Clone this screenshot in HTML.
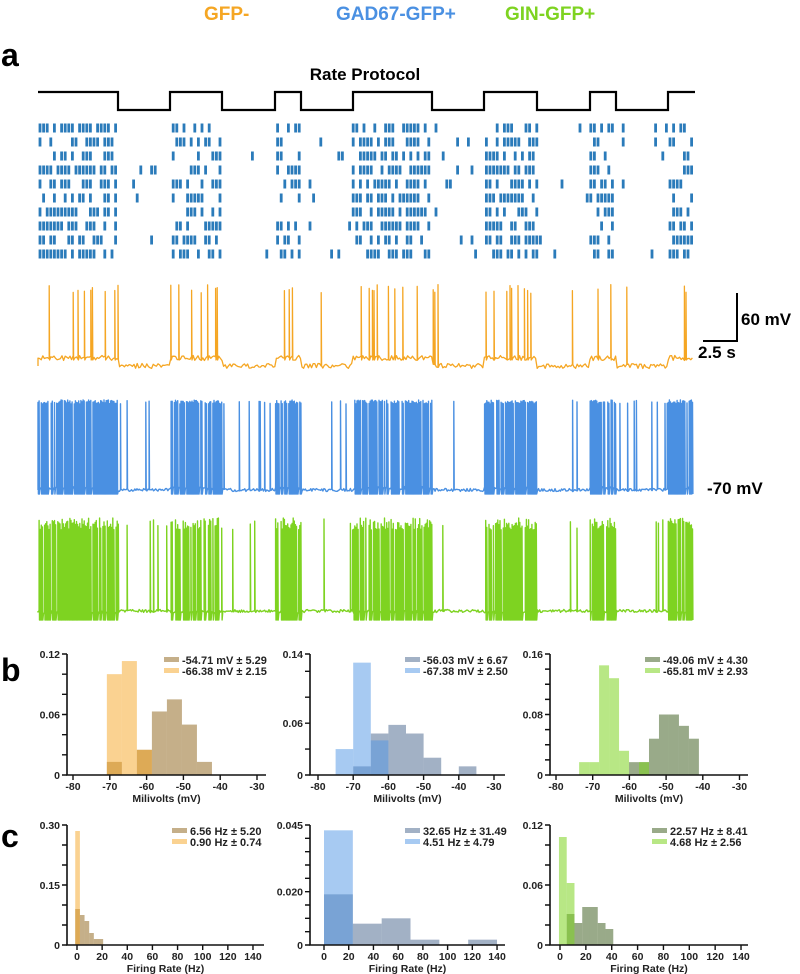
<!DOCTYPE html>
<html><head><meta charset="utf-8"><style>
html,body{margin:0;padding:0;background:#fff;}
svg{display:block;font-family:"Liberation Sans",Arial,sans-serif;}
</style></head><body>
<svg id="fig" width="800" height="974" viewBox="0 0 800 974" xmlns="http://www.w3.org/2000/svg">
<text x="204" y="20" font-size="19" font-weight="bold" fill="#f5a623">GFP-</text>
<text x="336" y="20" font-size="19" font-weight="bold" fill="#4a90e2">GAD67-GFP+</text>
<text x="505" y="20" font-size="19" font-weight="bold" fill="#7ed321">GIN-GFP+</text>
<text x="1" y="66" font-size="32" font-weight="bold">a</text>
<text x="365" y="80" font-size="17" font-weight="bold" text-anchor="middle">Rate Protocol</text>
<g id="protocol"></g>
<g id="raster"></g>
<g id="traces"></g>
<g>
<path d="M703 341 H737 V293" fill="none" stroke="#000" stroke-width="2"/>
<text x="741" y="325" font-size="17" font-weight="bold">60 mV</text>
<text x="698" y="358" font-size="17" font-weight="bold">2.5 s</text>
</g>
<text x="707" y="494" font-size="17" font-weight="bold">-70 mV</text>
<text x="1" y="681" font-size="32" font-weight="bold">b</text>
<text x="1" y="847" font-size="32" font-weight="bold">c</text>
<g id="hists"></g>
</svg>
<script>
// ---- protocol (px edges, alternating high/low starting high) ----
const protocolEdges = [38,118,170,222,275,301,353,432,484,537,590,616,668,695];

// ---- histogram data ----
// b: membrane potential (mV)
const gfpMvStart = -70.8, gfpMvWidth = 4.08;
const gfpMvDark = [0.013,0,0.025,0.063,0.075,0.05,0.013];
const gfpMvLight = [0.10,0.113,0.025];
const gadMvStart = -75, gadMvWidth = 5;
const gadMvDark = [0,0.01,0.048,0.058,0.048,0.02,0,0.01];
const gadMvLight = [0.03,0.13,0.04];
const ginMvStart = -73.7, ginMvWidth = 2.72;
const ginMvDark = [0,0,0,0,0,0.017,0.017,0.048,0.08,0.08,0.065,0.048];
const ginMvLight = [0.017,0.017,0.145,0.128,0.032,0,0.017];
// c: firing rate (Hz)
const gfpHzStart = -1.4, gfpHzWidth = 3.7;
const gfpHzDark = [0.09,0.075,0.06,0.03,0.015,0.015];
const gfpHzLight = [0.285];
const gadHzStart = 0, gadHzWidth = 23.33;
const gadHzDark = [0.019,0.008,0.01,0.002,0,0.002];
const gadHzLight = [0.043];
const ginHzStart = -0.8, ginHzWidth = 6;
const ginHzDark = [0,0.031,0.022,0.038,0.038,0.022,0.016];
const ginHzLight = [0.108,0.062];

const mvTicks = [-80,-70,-60,-50,-40,-30];
const hzTicks = [0,20,40,60,80,100,120,140];

const NS = "http://www.w3.org/2000/svg";
function el(tag, attrs, parent){ const e=document.createElementNS(NS,tag); for(const k in attrs) e.setAttribute(k,attrs[k]); parent.appendChild(e); return e; }

// protocol
(function(){
  const g=document.getElementById('protocol');
  let d='M'+protocolEdges[0]+' 92';
  for(let i=1;i<protocolEdges.length;i++){
    d+=' H'+protocolEdges[i];
    if(i<protocolEdges.length-1) d+=' V'+((i%2===1)?110:92);
  }
  const p=el('path',{d:d,fill:'none',stroke:'#000','stroke-width':2.2},g);
  
  
})();
function isHigh(x){ for(let i=0;i<protocolEdges.length-1;i++){ if(x>=protocolEdges[i]&&x<protocolEdges[i+1]) return i%2===0; } return true; }

// deterministic generator for illustrative spike trains
function rng(seed){ return function(){ seed|=0; seed=seed+0x6D2B79F5|0; let t=Math.imul(seed^seed>>>15,1|seed); t=t+Math.imul(t^t>>>7,61|t)^t; return ((t^t>>>14)>>>0)/4294967296; }; }

// raster
(function(){
  const g=document.getElementById('raster');
  for(let r=0;r<10;r++){
    const R=rng(100+r*17); const yc=128+r*14;
    let d='';
    for(let x=40;x<692;x+=3.6){
      const hi=isHigh(x);
      const p=hi?0.6:0.04;
      if(R()<p) d+='M'+x.toFixed(1)+' '+(yc-4.5)+'v9';
    }
    const p=el('path',{d:d,stroke:'#2b7bba','stroke-width':2.8},g);
    
    
  }
})();

// traces
function trace(seed,color,cfg){
  const g=document.getElementById('traces'); const R=rng(seed);
  let d='M38 '+cfg.baseLo;
  for(let x=38;x<=693;x+=cfg.step){
    const hi=isHigh(x);
    const base=(hi?cfg.baseHi:cfg.baseLo)+(R()-0.5)*cfg.noise;
    const p=hi?cfg.pHi:cfg.pLo;
    if(R()<p){
      const top=cfg.top+R()*cfg.topVar;
      d+=' L'+x.toFixed(1)+' '+base.toFixed(1)+' L'+x.toFixed(1)+' '+top.toFixed(1)+' L'+(x+0.4).toFixed(1)+' '+(hi?cfg.trough:base).toFixed(1);
    } else {
      d+=' L'+x.toFixed(1)+' '+base.toFixed(1);
    }
  }
  return el('path',{d:d,fill:'none',stroke:color,'stroke-width':cfg.w,'stroke-linejoin':'round'},g);
}
let t1=trace(11,'#f5a623',{baseHi:358,baseLo:366,noise:5,pHi:0.2,pLo:0.02,top:284,topVar:10,trough:360,step:1.6,w:1.3});


let t2=trace(23,'#4a90e2',{baseHi:488,baseLo:490,noise:3,pHi:0.85,pLo:0.05,top:400,topVar:4,trough:494,step:1.1,w:1.4});


let t3=trace(37,'#7ed321',{baseHi:612,baseLo:611,noise:3,pHi:0.85,pLo:0.06,top:518,topVar:12,trough:620,step:1.1,w:1.4});



// histograms
const panels = [
 {ax:67,xend:266,top:654,bot:775,v0:-80,px0:73,k:3.68,ymax:0.12,ystep:0.02,ylabels:[0,0.06,0.12],ylf:2,xt:mvTicks,title:'Milivolts (mV)',start:gfpMvStart,w:gfpMvWidth,dark:gfpMvDark,light:gfpMvLight,dc:'rgba(150,110,40,0.55)',lc:'rgba(245,166,35,0.5)',leg:['-54.71 mV ± 5.29','-66.38 mV ± 2.15'],lx:164,ly:660,name:'gfp-neg-mv-hist'},
 {ax:310,xend:505,top:654,bot:775,v0:-80,px0:318,k:3.52,ymax:0.14,ystep:0.03,ylabels:[0,0.06,0.14],ylf:2,xt:mvTicks,title:'Milivolts (mV)',start:gadMvStart,w:gadMvWidth,dark:gadMvDark,light:gadMvLight,dc:'rgba(70,100,140,0.5)',lc:'rgba(80,150,230,0.5)',leg:['-56.03 mV ± 6.67','-67.38 mV ± 2.50'],lx:405,ly:660,name:'gad67-mv-hist'},
 {ax:550,xend:748,top:654,bot:775,v0:-80,px0:556,k:3.67,ymax:0.16,ystep:0.02,ylabels:[0,0.08,0.16],ylf:2,xt:mvTicks,title:'Milivolts (mV)',start:ginMvStart,w:ginMvWidth,dark:ginMvDark,light:ginMvLight,dc:'rgba(70,100,40,0.55)',lc:'rgba(126,211,33,0.55)',leg:['-49.06 mV ± 4.30','-65.81 mV ± 2.93'],lx:645,ly:660,name:'gin-mv-hist'},
 {ax:67,xend:264,top:825,bot:945,v0:0,px0:77,k:1.257,ymax:0.30,ystep:0.05,ylabels:[0,0.15,0.30],ylf:2,xt:hzTicks,title:'Firing Rate (Hz)',start:gfpHzStart,w:gfpHzWidth,dark:gfpHzDark,light:gfpHzLight,dc:'rgba(150,110,40,0.55)',lc:'rgba(245,166,35,0.5)',leg:['6.56 Hz ± 5.20','0.90 Hz ± 0.74'],lx:172,ly:831,name:'gfp-neg-hz-hist'},
 {ax:310,xend:505,top:825,bot:945,v0:0,px0:324,k:1.236,ymax:0.045,ystep:0.005,ylabels:[0,0.020,0.045],ylf:3,xt:hzTicks,title:'Firing Rate (Hz)',start:gadHzStart,w:gadHzWidth,dark:gadHzDark,light:gadHzLight,dc:'rgba(70,100,140,0.5)',lc:'rgba(80,150,230,0.5)',leg:['32.65 Hz ± 31.49','4.51 Hz ± 4.79'],lx:405,ly:831,name:'gad67-hz-hist'},
 {ax:550,xend:748,top:825,bot:945,v0:0,px0:560,k:1.293,ymax:0.12,ystep:0.02,ylabels:[0,0.06,0.12],ylf:2,xt:hzTicks,title:'Firing Rate (Hz)',start:ginHzStart,w:ginHzWidth,dark:ginHzDark,light:ginHzLight,dc:'rgba(70,100,40,0.55)',lc:'rgba(126,211,33,0.55)',leg:['22.57 Hz ± 8.41','4.68 Hz ± 2.56'],lx:652,ly:831,name:'gin-hz-hist'}
];
const hg=document.getElementById('hists');
panels.forEach(P=>{
  const g=el('g',{},hg);
  
  
  const xs=v=>P.px0+(v-P.v0)*P.k;
  const ys=v=>P.bot-(v/P.ymax)*(P.bot-P.top);
  function bars(arr,col,nm){
    arr.forEach((v,i)=>{ if(v<=0) return;
      const x1=xs(P.start+i*P.w), x2=xs(P.start+(i+1)*P.w);
      const r=el('rect',{x:x1,y:ys(v),width:x2-x1,height:P.bot-ys(v),fill:col},g);
      
      
    });
  }
  bars(P.dark,P.dc,'bar-spiking');
  bars(P.light,P.lc,'bar-silent');
  el('path',{d:'M'+P.ax+' '+P.top+' V'+P.bot+' H'+P.xend,fill:'none',stroke:'#111','stroke-width':1.6},g);
  const n=Math.floor(P.ymax/P.ystep+1e-9);
  let td='';
  for(let i=0;i<=n;i++){ td+='M'+P.ax+' '+ys(i*P.ystep)+'h-5'; }
  td+='M'+P.ax+' '+P.top+'h-5';
  P.xt.forEach(v=>{ td+='M'+xs(v)+' '+P.bot+'v5'; });
  el('path',{d:td,stroke:'#111','stroke-width':1.4},g);
  P.ylabels.forEach(v=>{
    const t=el('text',{x:P.ax-7,y:ys(v)+4,'font-size':10.5,'font-weight':'bold','text-anchor':'end',fill:'#222'},g);
    t.textContent=v===0?'0':v.toFixed(P.ylf);
    
    
  });
  P.xt.forEach(v=>{
    const t=el('text',{x:xs(v),y:P.bot+15,'font-size':10.5,'font-weight':'bold','text-anchor':'middle',fill:'#222'},g);
    t.textContent=String(v);
    
    
  });
  const tt=el('text',{x:(P.ax+P.xend)/2,y:P.bot+27,'font-size':10.5,'font-weight':'bold','text-anchor':'middle',fill:'#222'},g);
  tt.textContent=P.title;
  
  
  [P.dc,P.lc].forEach((c,i)=>{
    const y=P.ly+i*11;
    el('rect',{x:P.lx,y:y-3,width:15,height:5,fill:c},g);
    const t=el('text',{x:P.lx+18,y:y+4,'font-size':11,'font-weight':'bold',fill:'#222'},g);
    t.textContent=P.leg[i];
    
    
  });
});
</script>
</body></html>
